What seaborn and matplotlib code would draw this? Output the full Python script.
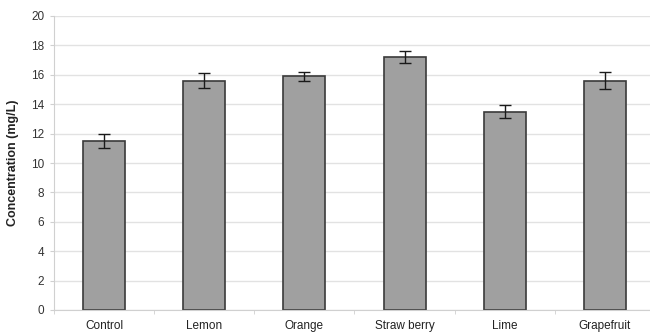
import numpy as np
import pandas as pd
import matplotlib
matplotlib.use('Agg')
import matplotlib.pyplot as plt
import seaborn as sns
from matplotlib.ticker import MultipleLocator, FixedLocator

categories = ['Control', 'Lemon', 'Orange', 'Straw berry', 'Lime', 'Grapefruit']
concentration = [11.5, 15.6, 15.9, 17.2, 13.5, 15.6]
error = [0.5, 0.5, 0.3, 0.4, 0.45, 0.6]

df = pd.DataFrame({'Sample': categories, 'Concentration': concentration, 'Error': error})

sns.set_style('white')
plt.rcParams['font.family'] = ['Liberation Sans', 'DejaVu Sans']

fig = plt.figure(figsize=(6.5, 3.36), dpi=100)
ax = fig.add_axes([54 / 650, 26 / 336, 601 / 650, 294 / 336])

sns.barplot(data=df, x='Sample', y='Concentration', color='#a0a0a0',
            edgecolor='#3a3a3a', linewidth=1.2, width=0.42, saturation=1,
            errorbar=None, ax=ax, zorder=2)
ax.errorbar(np.arange(len(categories)), df['Concentration'], yerr=df['Error'],
            fmt='none', ecolor='#1a1a1a', elinewidth=1, capsize=4, capthick=1, zorder=3)

ax.set_ylim(0, 20)
ax.set_xlim(-0.5, len(categories) - 0.5)
ax.yaxis.set_major_locator(MultipleLocator(2))
ax.grid(axis='y', color='#e2e2e2', linewidth=1, zorder=0)
ax.set_axisbelow(True)

for s in ['top', 'right']:
    ax.spines[s].set_visible(False)
ax.spines['left'].set_color('#d0d0d0')
ax.spines['bottom'].set_color('#d0d0d0')

ax.tick_params(axis='x', which='major', length=0, pad=7, labelsize=8.5, labelcolor='#222222')
ax.xaxis.set_minor_locator(FixedLocator(np.arange(-0.5, len(categories), 1)))
ax.tick_params(axis='x', which='minor', length=3, color='#d0d0d0', direction='out', bottom=True)
ax.tick_params(axis='y', length=3, color='#d0d0d0', left=True, labelsize=8.5, labelcolor='#333333', pad=4)

ax.set_xlabel('')
ax.set_ylabel('Concentration (mg/L)', fontsize=9, fontweight='bold', color='#222222', labelpad=9)

fig.savefig('out.png', dpi=100)
